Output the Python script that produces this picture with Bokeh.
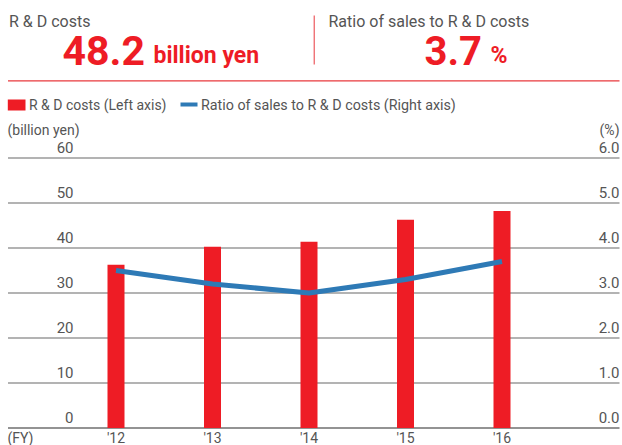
from bokeh.plotting import figure
from bokeh.models import Range1d, Label
from bokeh.embed import file_html
from bokeh.resources import INLINE

# ---- data ----
years = ["'12", "'13", "'14", "'15", "'16"]
rd_costs = [36.3, 40.3, 41.4, 46.3, 48.2]          # billion yen (left axis)
sales_ratio = [3.5, 3.2, 3.0, 3.3, 3.7]            # % (right axis)
left_ticks = [0, 10, 20, 30, 40, 50, 60]
right_ticks = [0.0, 1.0, 2.0, 3.0, 4.0, 5.0, 6.0]
headline_cost = "48.2"
headline_ratio = "3.7"

# ---- layout constants ----
W, H = 622, 445
PX_PER_CAT = 96.5
X_START = -115.5 / PX_PER_CAT
X_END = X_START + W / PX_PER_CAT
GRID0 = 427.5          # pixel (from top) of the 0 gridline
PX_PER_UNIT = 4.5      # pixels per billion yen
Y_START = -(H - GRID0) / PX_PER_UNIT
Y_END = GRID0 / PX_PER_UNIT

FONT = "Roboto"
GRAY = "#555555"
RED = "#ee1c25"
BLUE = "#2e7ab6"
RULE = "#e8383d"


def px2x(px):
    return X_START + px / PX_PER_CAT


def py2y(py):
    return Y_END - py / PX_PER_UNIT


p = figure(width=W, height=H, output_backend="svg", toolbar_location=None,
           x_range=Range1d(X_START, X_END), y_range=Range1d(Y_START, Y_END),
           x_axis_location=None, y_axis_location=None, min_border=0)
p.extra_y_ranges = {"pct": Range1d(Y_START / 10, Y_END / 10)}
p.outline_line_color = None
p.xgrid.visible = False
p.ygrid.visible = False
p.background_fill_color = "white"
p.border_fill_color = "white"

# gridlines
n = len(left_ticks)
p.segment(x0=[px2x(7.5)] * n, x1=[px2x(619)] * n, y0=left_ticks, y1=left_ticks,
          line_color=["#6f6f6f" if t == 0 else "#9a9a9a" for t in left_ticks],
          line_width=1.4)

idx = list(range(len(years)))
p.vbar(x=idx, top=rd_costs, bottom=0, width=17 / PX_PER_CAT,
       fill_color=RED, line_color=None)
p.line(x=idx, y=sales_ratio, y_range_name="pct", line_color=BLUE,
       line_width=5)


def sy(py):
    return H - py


# tick labels (middle baseline, floated above the gridline)
for t in left_ticks:
    p.add_layout(Label(x=73, x_units="screen", y=t, y_units="data",
                       y_offset=10.5, text=str(t), text_align="right",
                       text_baseline="middle", text_font=FONT,
                       text_font_size="15px", text_color=GRAY))
for t in right_ticks:
    p.add_layout(Label(x=619, x_units="screen", y=t, y_units="data",
                       y_range_name="pct", y_offset=10.5, text=f"{t:.1f}",
                       text_align="right", text_baseline="middle",
                       text_font=FONT, text_font_size="15px",
                       text_color=GRAY))

# category labels
for i, yr in zip(idx, years):
    p.add_layout(Label(x=i, y=0, x_units="data", y_units="data",
                       y_offset=-10, text=yr, text_font=FONT,
                       text_font_size="14px", text_color=GRAY,
                       text_align="center", text_baseline="middle"))
p.add_layout(Label(x=7, y=0, x_units="screen", y_units="data", y_offset=-10,
                   text="(FY)", text_font=FONT, text_font_size="14px",
                   text_color=GRAY, text_baseline="middle"))


def hlabel(x, y, text, size, color, bold=False, align="left"):
    p.add_layout(Label(x=x, y=sy(y), x_units="screen", y_units="screen",
                       text=text, text_font=FONT, text_font_size=size,
                       text_color=color, text_align=align,
                       text_baseline="middle",
                       text_font_style="bold" if bold else "normal"))


# axis titles
hlabel(7, 129, "(billion yen)", "14px", GRAY)
hlabel(619, 129, "(%)", "14px", GRAY, align="right")

# header
hlabel(8.5, 20.8, "R & D costs", "16px", GRAY)
hlabel(62, 49.5, headline_cost, "41px", RED, bold=True)
hlabel(153, 55, "billion yen", "23px", RED, bold=True)
hlabel(328, 20.8, "Ratio of sales to R & D costs", "16px", GRAY)
hlabel(424, 49.5, headline_ratio, "40px", RED, bold=True)
hlabel(490, 55, "%", "23px", RED, bold=True)

# divider and header rule
p.segment(x0=[px2x(313.7)], x1=[px2x(313.7)], y0=[py2y(15)], y1=[py2y(64)],
          line_color=RULE, line_width=1)
p.segment(x0=[px2x(7.5)], x1=[px2x(619)], y0=[py2y(80.3)], y1=[py2y(80.3)],
          line_color=RULE, line_width=1.2)

# legend
p.quad(left=[px2x(7.3)], right=[px2x(25)], top=[py2y(99)], bottom=[py2y(110)],
       fill_color=RED, line_color=None)
hlabel(28.5, 104, "R & D costs (Left axis)", "14px", GRAY)
p.segment(x0=[px2x(180)], x1=[px2x(197)], y0=[py2y(104)], y1=[py2y(104)],
          line_color=BLUE, line_width=4)
hlabel(200.5, 104, "Ratio of sales to R & D costs (Right axis)", "14.3px", GRAY)

open("out.html", "w").write(file_html(p, INLINE))
